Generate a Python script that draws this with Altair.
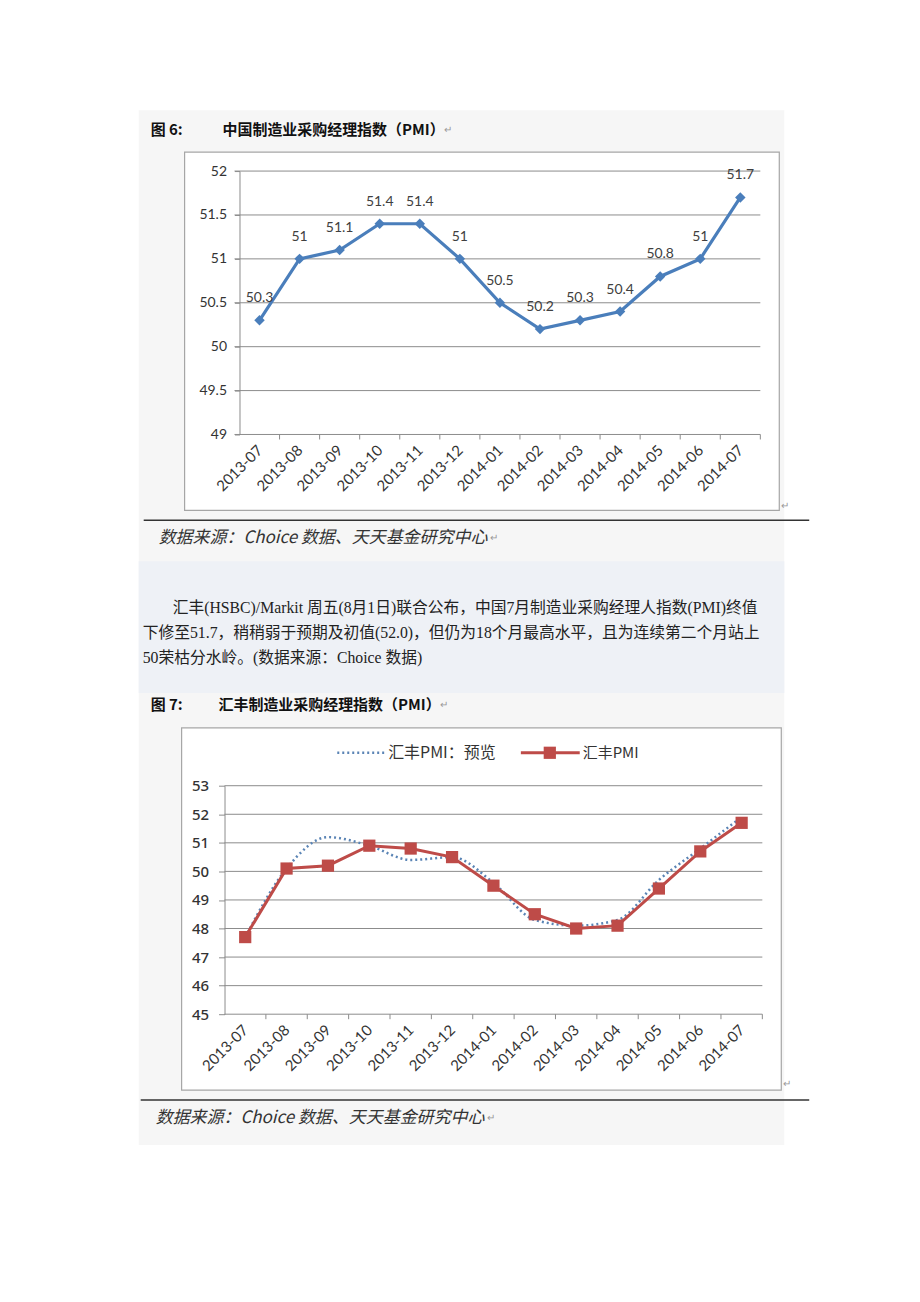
import altair as alt
import pandas as pd

# ---------------- data ----------------
months = ["2013-07", "2013-08", "2013-09", "2013-10", "2013-11", "2013-12",
          "2014-01", "2014-02", "2014-03", "2014-04", "2014-05", "2014-06", "2014-07"]
pmi_official = [50.3, 51.0, 51.1, 51.4, 51.4, 51.0, 50.5, 50.2, 50.3, 50.4, 50.8, 51.0, 51.7]
hsbc_flash = [47.7, 50.1, 51.2, 50.9, 50.4, 50.5, 49.6, 48.3, 48.1, 48.3, 49.7, 50.8, 51.9]
hsbc_final = [47.7, 50.1, 50.2, 50.9, 50.8, 50.5, 49.5, 48.5, 48.0, 48.1, 49.4, 50.7, 51.7]
y1_ticks = [49, 49.5, 50, 50.5, 51, 51.5, 52]
y2_ticks = [45, 46, 47, 48, 49, 50, 51, 52, 53]
series_names = ["汇丰PMI：预览", "汇丰PMI"]

fig6_label = "图 6:"
fig6_title = "中国制造业采购经理指数（PMI）"
fig7_label = "图 7:"
fig7_title = "汇丰制造业采购经理指数（PMI）"
source_text = "数据来源：Choice 数据、天天基金研究中心"
para_lines = [
    "汇丰(HSBC)/Markit 周五(8月1日)联合公布，中国7月制造业采购经理人指数(PMI)终值",
    "下修至51.7，稍稍弱于预期及初值(52.0)，但仍为18个月最高水平，且为连续第二个月站上",
    "50荣枯分水岭。(数据来源：Choice 数据)",
]
RET = "↵"

CJK = "Noto Sans CJK SC"
PARA_FONT = "Liberation Serif, Noto Sans CJK SC"
GRID = "#8c8c8c"
BLUE = "#4a7ebb"
RED = "#be4b48"
DOT = "#5a84b5"


# ---------------- helpers ----------------
def txt(s, x, y, size, color="#222", font=CJK, weight="normal", style="normal", align="left"):
    return alt.Chart(pd.DataFrame({"s": [s]})).mark_text(
        align=align, baseline="middle", fontSize=size, font=font, color=color,
        fontWeight=weight, fontStyle=style
    ).encode(x=alt.value(x), y=alt.value(y), text="s:N")


def box(x, x2, y, y2, fill, stroke=None, sw=0):
    kw = dict(fill=fill)
    if stroke:
        kw.update(stroke=stroke, strokeWidth=sw)
    return alt.Chart(pd.DataFrame({"k": [0]})).mark_rect(**kw).encode(
        x=alt.value(x), x2=alt.value(x2), y=alt.value(y), y2=alt.value(y2))


def hline(x, x2, y, color, w):
    return alt.Chart(pd.DataFrame({"k": [0]})).mark_rule(color=color, strokeWidth=w).encode(
        x=alt.value(x), x2=alt.value(x2), y=alt.value(y))


# ---------------- chart 1 ----------------
W1, H1 = 537, 264
df1 = pd.DataFrame({"month": months, "value": pmi_official,
                    "label": [f"{v:g}" for v in pmi_official]})
x1 = alt.X("month:N", sort=months,
           scale=alt.Scale(type="point", range=[15, W1], padding=0.5),
           axis=alt.Axis(title=None, labelAngle=315, labelAlign="right", labelBaseline="middle",
                         labelPadding=13, ticks=False, domain=False, grid=False, zindex=1,
                         labelFont="Lato", labelFontSize=15, labelColor="#333"))
y1 = alt.Y("value:Q", scale=alt.Scale(domain=[49, 52], nice=False, zero=False),
           axis=alt.Axis(title=None, values=y1_ticks, format="~g", offset=-15, grid=False,
                         tickSize=5, tickColor=GRID, domainColor=GRID, labelPadding=8, zindex=1,
                         labelFont="Lato", labelFontSize=14, labelColor="#333"))

grid1 = alt.Chart(pd.DataFrame({"value": y1_ticks})).mark_rule(color=GRID, strokeWidth=1).encode(
    y=y1, x=alt.value(10), x2=alt.value(W1))
ticks1 = alt.Chart(df1).mark_rule(color=GRID, xOffset=20.08).encode(
    x=x1, y=alt.value(H1), y2=alt.value(H1 + 5))
line1 = alt.Chart(df1).mark_line(color=BLUE, strokeWidth=3.2).encode(x=x1, y=y1)
pts1 = alt.Chart(df1).mark_point(shape="diamond", filled=True, size=110, color=BLUE, opacity=1).encode(x=x1, y=y1)
lab1 = alt.Chart(df1).mark_text(dy=-22, fontSize=14, font="Lato", color="#404040").encode(
    x=x1, y=y1, text="label:N")

chart1 = alt.layer(
    box(-216, 688, -161, 1125, "white"),
    box(-86, 561, -61, 976, "#f6f6f6"),
    box(-86, 561, 391, 523, "#eef1f6"),
    txt(fig6_label, -74, -41, 15, "#111", weight="bold"),
    txt(fig6_title, -2, -41, 15, "#111", weight="bold"),
    txt(RET, 220, -41, 10, "#999"),
    box(-40, 556, -19, 340, "white", "#a6a6a6", 1.2),
    txt(RET, 558, 336, 10, "#999"),
    hline(-81, 586, 350, "#333", 1.5),
    txt(source_text, -66, 368, 17, "#333", style="italic"),
    txt(RET, 266, 368, 10, "#999"),
    txt(para_lines[0], -52, 438, 15.8, "#222", font=PARA_FONT),
    txt(para_lines[1], -82, 463, 15.8, "#222", font=PARA_FONT),
    txt(para_lines[2], -82, 488, 15.8, "#222", font=PARA_FONT),
    grid1, ticks1, line1, pts1, lab1,
).properties(width=W1, height=H1)

# ---------------- chart 2 ----------------
W2, H2 = 539, 229
df2 = pd.DataFrame({
    "month": months * 2,
    "value": hsbc_flash + hsbc_final,
    "series": [series_names[0]] * 13 + [series_names[1]] * 13,
})
df_flash = df2[df2.series == series_names[0]]
df_final = df2[df2.series == series_names[1]]
x2 = alt.X("month:N", sort=months,
           scale=alt.Scale(type="point", padding=0.5),
           axis=alt.Axis(title=None, labelAngle=315, labelAlign="right", labelBaseline="middle",
                         labelPadding=13, ticks=False, domain=False, grid=False, zindex=1,
                         labelFont="Lato", labelFontSize=15, labelColor="#333"))
y2 = alt.Y("value:Q", scale=alt.Scale(domain=[45, 53], nice=False, zero=False),
           axis=alt.Axis(title=None, values=y2_ticks, format="~g", grid=False,
                         tickSize=6, tickColor=GRID, domainColor=GRID, zindex=1,
                         labelPadding=10, labelFont="Noto Sans", labelFontSize=15,
                         labelFontWeight=500, labelColor="#333"))

grid2 = alt.Chart(pd.DataFrame({"value": y2_ticks})).mark_rule(color=GRID, strokeWidth=1).encode(
    y=y2, x=alt.value(0), x2=alt.value(W2))
ticks2 = alt.Chart(df_final).mark_rule(color=GRID, xOffset=20.73).encode(
    x=x2, y=alt.value(H2), y2=alt.value(H2 + 5))
flash = alt.Chart(df_flash).mark_line(color=DOT, strokeWidth=2.5, strokeDash=[2, 3],
                                      interpolate="monotone").encode(x=x2, y=y2)
final = alt.Chart(df_final).mark_line(color=RED, strokeWidth=3).encode(x=x2, y=y2)
sq = alt.Chart(df_final).mark_point(shape="square", filled=True, size=150, color=RED, opacity=1).encode(x=x2, y=y2)

leg_dot = alt.Chart(pd.DataFrame({"k": [0]})).mark_rule(color=DOT, strokeWidth=2.5, strokeDash=[2, 3]).encode(
    x=alt.value(113), x2=alt.value(161), y=alt.value(-33))
leg_red = alt.Chart(pd.DataFrame({"k": [0]})).mark_rule(color=RED, strokeWidth=3).encode(
    x=alt.value(297), x2=alt.value(356), y=alt.value(-33))
leg_sq = alt.Chart(pd.DataFrame({"k": [0]})).mark_point(shape="square", filled=True, size=150, color=RED, opacity=1).encode(
    x=alt.value(326), y=alt.value(-33))

chart2 = alt.layer(
    txt(fig7_label, -74, -81, 15, "#111", weight="bold"),
    txt(fig7_title, -6, -81, 15, "#111", weight="bold"),
    txt(RET, 216, -81, 10, "#999"),
    box(-43, 558, -58, 305, "white", "#a6a6a6", 1.2),
    txt(RET, 560, 299, 10, "#999"),
    hline(-84, 586, 315, "#333", 1.5),
    txt(source_text, -69, 333, 17, "#333", style="italic"),
    txt(RET, 263, 333, 10, "#999"),
    leg_dot, txt(series_names[0], 164, -33, 16, "#333"),
    leg_red, leg_sq, txt(series_names[1], 359, -33, 15, "#333"),
    grid2, ticks2, flash, final, sq,
).properties(width=W2, height=H2)

chart = alt.vconcat(chart1, chart2, spacing=352, bounds="flush").properties(
    padding=0
).configure_view(stroke=None).configure(background="white")

chart.save("out.html", embed_options={"renderer": "svg", "actions": False})
